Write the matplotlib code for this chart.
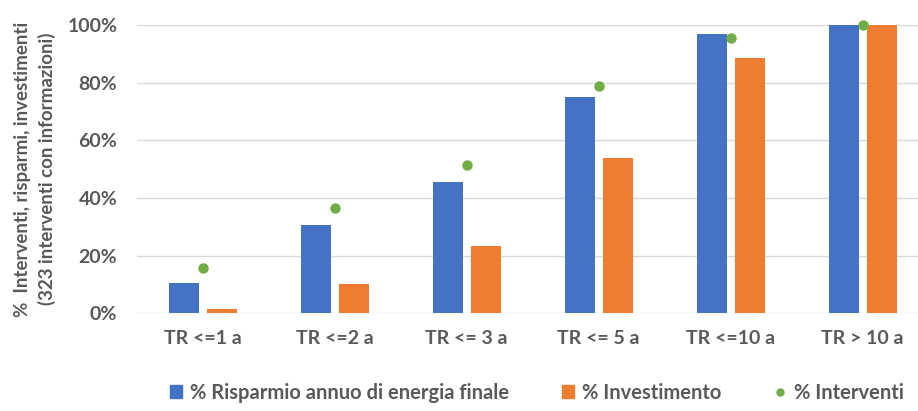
import numpy as np
import matplotlib.pyplot as plt
from matplotlib.lines import Line2D
from matplotlib.patches import Patch

plt.rcParams['font.family'] = ['Lato', 'DejaVu Sans']
plt.rcParams['font.weight'] = 'bold'

categorie = ['TR <=1 a', 'TR <=2 a', 'TR <= 3 a', 'TR <= 5 a', 'TR <=10 a', 'TR > 10 a']
risparmio = [0.105, 0.305, 0.455, 0.752, 0.968, 1.0]
investimento = [0.015, 0.10, 0.233, 0.54, 0.885, 1.0]
interventi = [0.157, 0.364, 0.514, 0.789, 0.954, 1.0]

blu = '#4472C4'
arancio = '#ED7D31'
verde = '#70AD47'
grigio = '#595959'

fig = plt.figure(figsize=(9.18, 4.11), dpi=100)
ax = fig.add_axes([0.149, 0.238, 0.851, 0.701])

x = np.arange(len(categorie))
w = 0.227
off = 0.144
ax.bar(x - off, risparmio, w, color=blu, zorder=2)
ax.bar(x + off, investimento, w, color=arancio, zorder=2)
ax.plot(x, interventi, 'o', color=verde, markersize=6.5, zorder=3, clip_on=False)

ax.set_xlim(-0.5, 5.42)
ax.set_ylim(0, 1.0)
ax.set_yticks(np.arange(0, 1.01, 0.2))
ax.set_yticklabels([f'{int(round(v*100))}%' for v in np.arange(0, 1.01, 0.2)])
ax.set_xticks(x)
ax.set_xticklabels(categorie)
ax.tick_params(length=0, labelsize=14, labelcolor=grigio)
ax.tick_params(axis='x', pad=12)
ax.tick_params(axis='y', pad=14)
ax.grid(axis='y', color='#D9D9D9', linewidth=1, zorder=0)
for s in ax.spines.values():
    s.set_visible(False)
ax.set_axisbelow(True)

ax.set_ylabel('%  Interventi, risparmi, investimenti\n(323 interventi con informazioni)',
              fontsize=13.5, fontweight='bold', color=grigio, linespacing=1.45, labelpad=8)

handles = [Patch(color=blu), Patch(color=arancio),
           Line2D([], [], marker='o', linestyle='', color=verde, markersize=5)]
labels = ['% Risparmio annuo di energia finale', '% Investimento', '% Interventi']
leg = fig.legend(handles, labels, loc='center', bbox_to_anchor=(0.585, 0.045), ncol=3,
                 frameon=False, fontsize=14.5, handlelength=0.6, handleheight=0.6,
                 handletextpad=0.4, columnspacing=2.6)
for t in leg.get_texts():
    t.set_color(grigio)

plt.savefig('out.png', dpi=100)
